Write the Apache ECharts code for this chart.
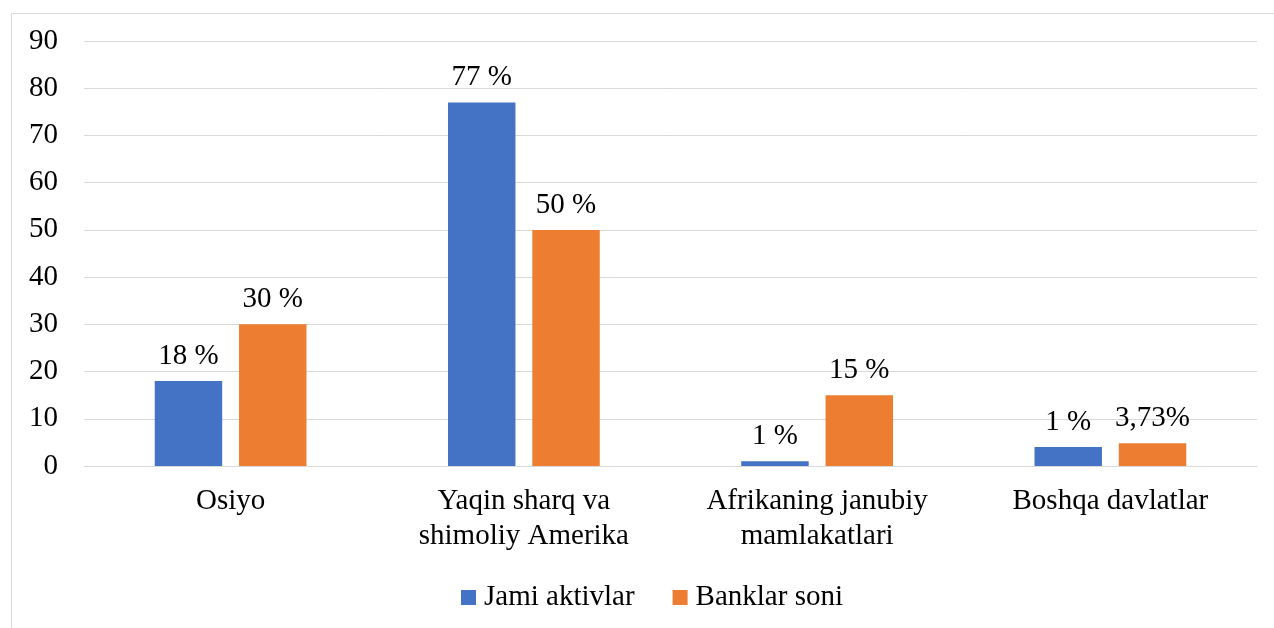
<!DOCTYPE html>
<html><head><meta charset="utf-8">
<script src="https://cdn.jsdelivr.net/npm/echarts@6/dist/echarts.min.js"></script>
<style>html,body{margin:0;padding:0;background:#fff}#c{width:1274px;height:628px}</style>
</head><body><div id="c"></div>
<script>
const categories = ['Osiyo', 'Yaqin sharq va\nshimoliy Amerika', 'Afrikaning janubiy\nmamlakatlari', 'Boshqa davlatlar'];
const seriesNames = ['Jami aktivlar', 'Banklar soni'];
const jamiAktivlar = [18, 77, 1, 4];
const banklarSoni = [30, 50, 15, 4.8];
const jamiLabels = ['18 %', '77 %', '1 %', '1 %'];
const banklarLabels = ['30 %', '50 %', '15 %', '3,73%'];
const yTicks = [0, 10, 20, 30, 40, 50, 60, 70, 80, 90];

const font = '"Liberation Serif", "Times New Roman", serif';
const fs = 29;
const chart = echarts.init(document.getElementById('c'));
chart.setOption({
  animation: false,
  textStyle: { fontFamily: font },
  graphic: [{ type: 'rect', shape: { x: 11.5, y: 13.5, width: 1270, height: 620 }, style: { fill: 'none', stroke: '#d9d9d9', lineWidth: 1 }, silent: true }],
  grid: { left: 84, right: 17, top: 41, bottom: 162, containLabel: false },
  legend: {
    top: 578, left: 456, itemWidth: 15, itemHeight: 15, itemGap: 38,
    icon: 'rect',
    textStyle: { fontFamily: font, fontSize: fs, color: '#000', padding: [0, 0, 0, 3] },
    data: seriesNames
  },
  xAxis: {
    type: 'category', data: categories,
    axisLine: { show: true, lineStyle: { color: '#d9d9d9' } },
    axisTick: { show: false },
    axisLabel: { fontFamily: font, fontSize: fs, color: '#000', margin: 18, lineHeight: 35, interval: 0 }
  },
  yAxis: {
    type: 'value', min: 0, max: 90, interval: 10,
    axisLine: { show: false }, axisTick: { show: false },
    splitLine: { lineStyle: { color: '#d9d9d9' } },
    axisLabel: { fontFamily: font, fontSize: fs, color: '#000', margin: 26,
      formatter: v => (yTicks.indexOf(v) >= 0 ? String(v) : '') }
  },
  series: [
    {
      name: seriesNames[0], type: 'bar', data: jamiAktivlar, barWidth: '23%', barGap: '25%',
      itemStyle: { color: '#4472c4' },
      label: { show: true, position: 'top', distance: 10, fontFamily: font, fontSize: fs, color: '#000',
        formatter: p => jamiLabels[p.dataIndex] }
    },
    {
      name: seriesNames[1], type: 'bar', data: banklarSoni, barWidth: '23%', barGap: '25%',
      itemStyle: { color: '#ed7d31' },
      label: { show: true, position: 'top', distance: 10, fontFamily: font, fontSize: fs, color: '#000',
        formatter: p => banklarLabels[p.dataIndex] }
    }
  ]
});
</script></body></html>
